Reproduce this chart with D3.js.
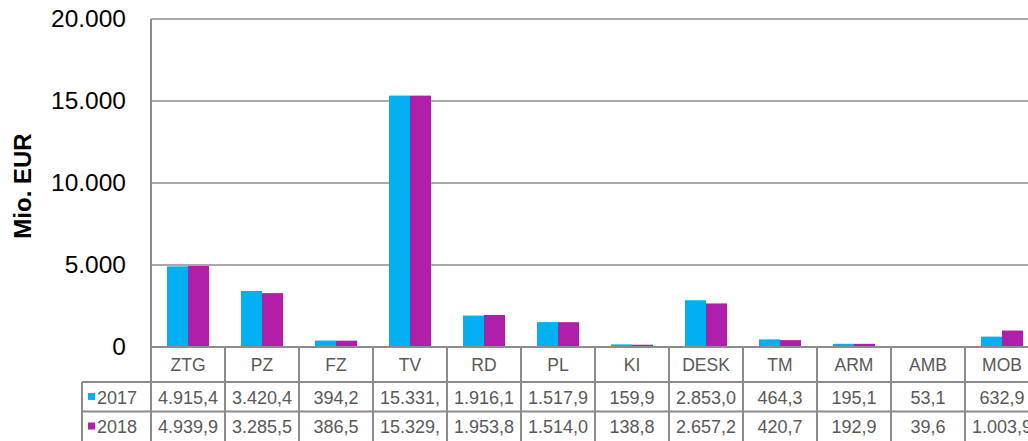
<!DOCTYPE html>
<html>
<head>
<meta charset="utf-8">
<script src="https://cdn.jsdelivr.net/npm/d3@7"></script>
<style>
  body { margin: 0; background: #fff; }
  svg { display: block; font-family: "Liberation Sans", Arial, sans-serif; }
</style>
</head>
<body>
<svg id="plot" width="1028" height="441"></svg>
<script>
const svg = d3.select('#plot');

// Data
const categories = ['ZTG', 'PZ', 'FZ', 'TV', 'RD', 'PL', 'KI', 'DESK', 'TM', 'ARM', 'AMB', 'MOB'];
const series = ['2017', '2018'];
const values2017 = [4915.4, 3420.4, 394.2, 15331.0, 1916.1, 1517.9, 159.9, 2853.0, 464.3, 195.1, 53.1, 632.9];
const values2018 = [4939.9, 3285.5, 386.5, 15329.0, 1953.8, 1514.0, 138.8, 2657.2, 420.7, 192.9, 39.6, 1003.9];
const seriesColors = ['#00B0F0', '#B01FAA'];
const yTicks = [0, 5000, 10000, 15000, 20000];
const yLabel = 'Mio. EUR';

const seriesValues = [values2017, values2018];

// Layout
const plotLeft = 151;
const plotTop = 19;
const zeroY = 347;
const colW = 74;
const catRowH = 35;
const rowH = 29.5;
const tableLeft = 82;
const lineColor = '#8c8c8c';
const textGray = '#595959';

const de = d3.formatLocale({decimal: ',', thousands: '.', grouping: [3], currency: ['', ' €']});
const fmtTick = de.format(',.0f');
const fmtVal = de.format(',.1f');

const xScale = d3.scaleBand()
    .domain(categories)
    .range([plotLeft, plotLeft + colW * categories.length]);

const xSub = d3.scaleBand()
    .domain(series)
    .range([16, colW - 16]);

const yScale = d3.scaleLinear()
    .domain([0, 20000])
    .range([zeroY, plotTop]);

// gridlines + tick labels
const yAxis = d3.axisLeft(yScale)
    .tickValues(yTicks)
    .tickFormat(fmtTick)
    .tickSize(0)
    .tickPadding(25);

const yAxisG = svg.append('g')
    .attr('transform', `translate(${plotLeft}, 0)`)
    .call(yAxis);
yAxisG.select('.domain').remove();
yAxisG.selectAll('text')
    .attr('font-size', '24.5px')
    .attr('fill', '#000')
    .attr('font-family', '"Liberation Sans", Arial, sans-serif');

svg.append('g').selectAll('line')
    .data(yTicks.filter(d => d > 0))
    .enter().append('line')
        .attr('x1', plotLeft)
        .attr('x2', 1028)
        .attr('y1', d => yScale(d))
        .attr('y2', d => yScale(d))
        .attr('stroke', lineColor)
        .attr('stroke-width', 1.5);

svg.append('text')
    .attr('transform', `translate(31, ${(plotTop + zeroY) / 2 + 3}) rotate(-90)`)
    .attr('text-anchor', 'middle')
    .attr('font-size', '24px')
    .attr('font-weight', 'bold')
    .attr('fill', '#000')
    .text(yLabel);

// bars
series.forEach((s, si) => {
    svg.append('g').selectAll('rect')
        .data(categories)
        .enter().append('rect')
            .attr('x', d => xScale(d) + xSub(s))
            .attr('width', xSub.bandwidth())
            .attr('y', (d, i) => yScale(seriesValues[si][i]))
            .attr('height', (d, i) => zeroY - yScale(seriesValues[si][i]))
            .attr('fill', seriesColors[si]);
});

// data table
const table = svg.append('g');
const tableRight = plotLeft + colW * categories.length;
const row1 = zeroY + catRowH;
const row2 = row1 + rowH;
const row3 = row2 + rowH + 1;

// horizontal lines
table.append('line')
    .attr('x1', plotLeft).attr('x2', tableRight)
    .attr('y1', zeroY).attr('y2', zeroY);
[row1, row2, row3].forEach(y => {
    table.append('line')
        .attr('x1', tableLeft).attr('x2', tableRight)
        .attr('y1', y).attr('y2', y);
});
// vertical lines
table.append('line')
    .attr('x1', plotLeft).attr('x2', plotLeft)
    .attr('y1', plotTop).attr('y2', row3);
table.append('line')
    .attr('x1', tableLeft).attr('x2', tableLeft)
    .attr('y1', row1).attr('y2', row3);
categories.forEach(c => {
    const x = xScale(c) + colW;
    table.append('line')
        .attr('x1', x).attr('x2', x)
        .attr('y1', zeroY).attr('y2', row3);
});
table.selectAll('line')
    .attr('stroke', lineColor)
    .attr('stroke-width', 2);

// category labels
table.selectAll('text.cat')
    .data(categories)
    .enter().append('text')
        .attr('class', 'cat')
        .attr('x', d => xScale(d) + colW / 2)
        .attr('y', zeroY + 24)
        .attr('text-anchor', 'middle')
        .attr('font-size', '17.5px')
        .attr('fill', textGray)
        .text(d => d);

// value rows
series.forEach((s, si) => {
    const yTop = row1 + si * rowH;
    table.append('rect')
        .attr('x', tableLeft + 6)
        .attr('y', yTop + 11)
        .attr('width', 7)
        .attr('height', 7)
        .attr('fill', seriesColors[si]);
    table.append('text')
        .attr('x', tableLeft + 15)
        .attr('y', yTop + 21.5)
        .attr('font-size', '18px')
        .attr('fill', textGray)
        .text(s);

    table.selectAll('text.v' + s)
        .data(categories)
        .enter().append('text')
            .attr('class', 'v' + s)
            .attr('x', d => xScale(d) + colW / 2)
            .attr('y', yTop + 21.5)
            .attr('text-anchor', 'middle')
            .attr('font-size', '18px')
            .attr('fill', textGray)
            .text((d, i) => fmtVal(seriesValues[si][i]))
            .each(function () {
                // cut text that does not fit the cell, like the spreadsheet does
                const t = d3.select(this);
                let str = t.text();
                while (this.getComputedTextLength() > colW - 6 && str.length > 1) {
                    str = str.slice(0, -1);
                    t.text(str);
                }
            });
});
</script>
</body>
</html>
